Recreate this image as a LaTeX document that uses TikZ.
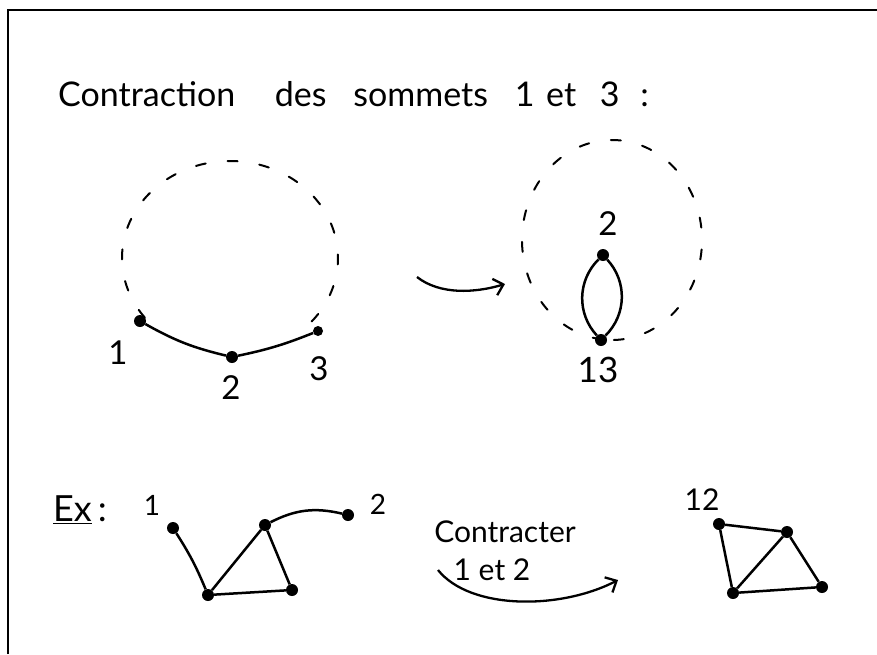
\documentclass[tikz,border=0pt]{standalone}
\usepackage{fontspec}
\setmainfont{Lato}
\usetikzlibrary{arrows.meta}
\begin{document}
\begin{tikzpicture}[x=1pt,y=-1pt,
  vtx/.style={circle,fill=black,inner sep=0pt,minimum size=12pt},
  edge/.style={line width=2.5pt},
  dashline/.style={line width=2pt,dash pattern=on 10pt off 22pt,line cap=round},
  hand/.style={inner sep=0pt,font=\fontsize{36}{40}\selectfont},
  bigl/.style={inner sep=0pt,font=\fontsize{33}{36}\selectfont},
  smalll/.style={inner sep=0pt,font=\fontsize{28}{32}\selectfont},
  midl/.style={inner sep=0pt,font=\fontsize{30}{34}\selectfont},
  barb/.style={-{Straight Barb[length=9pt,width=17pt,line width=2.3pt]},line width=2.3pt}]
\useasboundingbox (0,0) rectangle (877,654);
\draw[line width=1.6pt] (8,654) -- (8,10) -- (877,10);
% title
\node[inner sep=0pt,anchor=base west,font=\fontsize{34}{40}\selectfont] (title) at (58,106) {Contraction\hspace{31pt} des\hspace{18pt} sommets\hspace{18pt} 1\hspace{3pt} et\hspace{15pt} 3\hspace{12pt} :};
% left graph
\node[vtx] (v1) at (140,321) {};
\node[vtx] (v2) at (232,357) {};
\node[vtx,minimum size=10pt] (v3) at (318,331) {};
\draw[edge] (v1) to[bend right=8] (v2);
\draw[edge] (v2) to[bend right=5] (v3);
\draw[dashline] plot[domain=142:402,samples=80,smooth] ({230+108*cos(\x)},{258+97*sin(\x)});
\node[bigl] (l1) at (118,353) {1};
\node[bigl] (l2) at (231,388) {2};
\node[bigl] (l3) at (319,369) {3};
% arrow
\coordinate (a1s) at (417,277);
\coordinate (a1e) at (505,284);
\draw[barb] (a1s) .. controls (440,295) and (475,293) .. (a1e);
% right graph
\node[vtx] (w2) at (603,255) {};
\node[vtx] (w13) at (601,340) {};
\draw[edge] (w2) to[bend left=44] (w13);
\draw[edge] (w2) to[bend right=44] (w13);
\draw[dashline] plot[domain=96:456,samples=100,smooth] ({612+90*cos(\x)},{240+100*sin(\x)});
\node[bigl] (m2) at (608,224) {2};
\node[bigl,font=\fontsize{35}{38}\selectfont] (m13) at (598,370) {13};
% example
\node[hand] (ex) at (80,510) {\underline{Ex}\,:};
\node[vtx] (A) at (173,528) {};
\node[vtx] (B) at (208,595) {};
\node[vtx] (C) at (265,525) {};
\node[vtx] (D) at (292,590) {};
\node[vtx] (E) at (348,515) {};
\draw[edge] (A) to[bend left=5] (B);
\draw[edge] (B) -- (C);
\draw[edge] (B) -- (D);
\draw[edge] (C) -- (D);
\draw[edge] (C) to[bend left=20] (E);
\node[smalll] (eA) at (152,505) {1};
\node[smalll] (eE) at (378,504) {2};
% contract arrow
\node[midl] (ct) at (505,532) {Contracter};
\node[midl] (ct2) at (492,570) {1 et 2};
\coordinate (a2s) at (438,570);
\coordinate (a2e) at (618,580);
\draw[barb] (a2s) .. controls (470,610) and (560,610) .. (a2e);
% result
\node[vtx] (P) at (719,524) {};
\node[vtx] (Q) at (787,532) {};
\node[vtx] (R) at (822,587) {};
\node[vtx] (S) at (733,593) {};
\draw[edge] (P) -- (Q);
\draw[edge] (P) -- (S);
\draw[edge] (Q) -- (S);
\draw[edge] (Q) -- (R);
\draw[edge] (S) -- (R);
\node[midl] (l12) at (702,500) {12};
\end{tikzpicture}
\end{document}
